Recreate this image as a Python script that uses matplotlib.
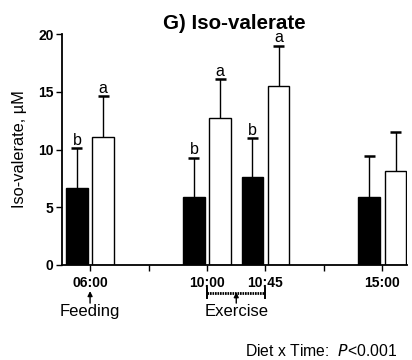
import numpy as np
import matplotlib
matplotlib.use("Agg")
import matplotlib.pyplot as plt

plt.rcParams["font.family"] = ["Liberation Sans", "DejaVu Sans"]

# sampling times and their slots on the x axis
times = ["06:00", "10:00", "10:45", "15:00"]
slots = [0, 2, 3, 5]

# iso-valerate, uM (mean and SD) for the two diets
diet1_mean = [6.7, 5.9, 7.6, 5.9]
diet1_sd = [3.4, 3.4, 3.4, 3.5]
diet2_mean = [11.1, 12.7, 15.5, 8.1]
diet2_sd = [3.5, 3.4, 3.5, 3.4]
diet1_letters = ["b", "b", "b", ""]
diet2_letters = ["a", "a", "a", ""]

fig = plt.figure(figsize=(4.12, 3.60), dpi=100)
ax = fig.add_axes([62 / 412, 1 - 265 / 360, 345 / 412, 231 / 360])

x = np.array(slots, dtype=float)
off = 0.225
w = 0.37
cap = 0.095

for xs, means, sds, letters, fc in [
        (x - off, diet1_mean, diet1_sd, diet1_letters, "black"),
        (x + off, diet2_mean, diet2_sd, diet2_letters, "white")]:
    means = np.array(means)
    tops = means + np.array(sds)
    ax.bar(xs, means, width=w, color=fc, edgecolor="black", linewidth=1.0,
           zorder=2)
    # upper error bars only
    ax.vlines(xs, means, tops, color="black", lw=1.0, zorder=1)
    ax.hlines(tops, xs - cap, xs + cap, color="black", lw=1.8, zorder=1)
    for xi, t, lab in zip(xs, tops, letters):
        if lab:
            ax.annotate(lab, (xi, t), xytext=(0, 0.3),
                        textcoords="offset points", ha="center", va="bottom",
                        fontsize=11.5)

ax.set_xlim(-0.48, 5.42)
ax.set_ylim(0, 20)
ax.set_yticks([0, 5, 10, 15, 20])
ax.set_xticks(range(6))
ax.set_xticklabels(["06:00", "", "10:00", "10:45", "", "15:00"])
for lbl in ax.get_xticklabels() + ax.get_yticklabels():
    lbl.set_fontweight("bold")
    lbl.set_fontsize(10)
ax.tick_params(axis="both", length=4, width=1.0)
ax.tick_params(axis="x", pad=4)
ax.tick_params(axis="y", pad=2)
ax.spines["top"].set_visible(False)
ax.spines["right"].set_visible(False)
ax.spines["left"].set_linewidth(1.3)
ax.spines["bottom"].set_linewidth(1.3)
ax.set_ylabel("Iso-valerate, \u00b5M", fontsize=11.8, labelpad=8)
fig.text(234.5 / 412, 1 - 29 / 360, "G) Iso-valerate", ha="center",
         va="baseline", fontsize=14.8, fontweight="bold")

# event markers below the axis
tr = ax.get_xaxis_transform()
ax.annotate("", xy=(0, -0.113), xytext=(0, -0.165), xycoords=tr,
            textcoords=tr, annotation_clip=False,
            arrowprops=dict(arrowstyle="-|>", color="black", lw=1,
                            mutation_scale=7, shrinkA=0, shrinkB=0))
ax.text(0, -0.17, "Feeding", transform=tr, ha="center", va="top",
        fontsize=12)

ax.plot([2, 3], [-0.121, -0.121], transform=tr, color="black", lw=2,
        ls=(0, (0.6, 0.3)), clip_on=False)
for xe in (2, 3):
    ax.plot([xe, xe], [-0.1, -0.142], transform=tr, color="black", lw=1.4,
            clip_on=False)
ax.annotate("", xy=(2.5, -0.118), xytext=(2.5, -0.165), xycoords=tr,
            textcoords=tr, annotation_clip=False,
            arrowprops=dict(arrowstyle="-|>", color="black", lw=1,
                            mutation_scale=7, shrinkA=0, shrinkB=0))
ax.text(2.5, -0.17, "Exercise", transform=tr, ha="center", va="top",
        fontsize=12)

fig.text(397 / 412, 1 - 356 / 360, "Diet x Time:  $\\mathit{P}$<0.001",
         ha="right", va="baseline", fontsize=11.3)

fig.savefig("out.png", dpi=100)
